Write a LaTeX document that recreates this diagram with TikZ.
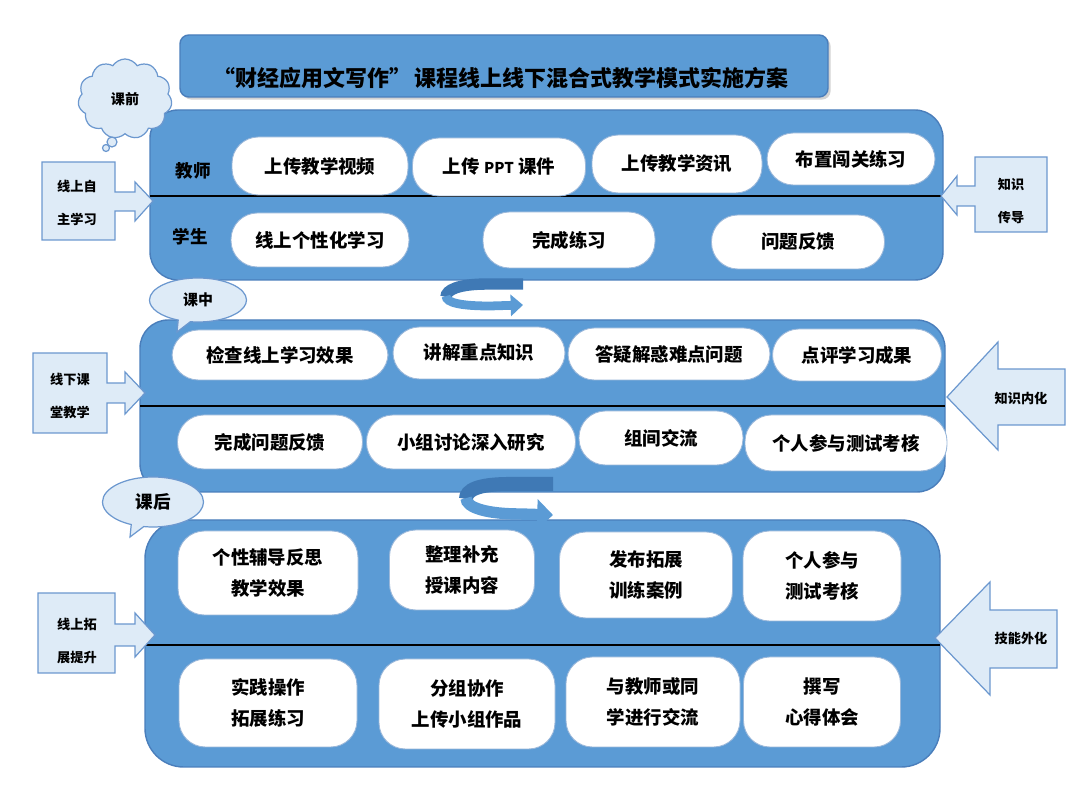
\documentclass[tikz,border=0pt]{standalone}
\usepackage{fontspec}
\setmainfont{Noto Sans CJK SC}
\usetikzlibrary{shapes.symbols, shapes.callouts, arrows.meta, shadows}

\definecolor{panelblue}{HTML}{5B9BD5}
\definecolor{paneledge}{HTML}{4A7EBB}
\definecolor{palefill}{HTML}{DEEBF7}
\definecolor{paleedge}{HTML}{6C98CF}
\definecolor{ribbondark}{HTML}{3F79B5}

\tikzset{
  panel/.style={fill=panelblue, draw=paneledge, line width=0.8pt},
  pill/.style n args={2}{fill=white, draw=paneledge!55, line width=0.5pt,
    rounded corners=15pt, minimum width=#1*0.02cm, minimum height=#2*0.02cm,
    inner sep=0pt, align=center, font=\bfseries\fontsize{10.5}{18}\selectfont},
  rolelabel/.style={font=\bfseries\fontsize{10}{12}\selectfont},
  callbox/.style={fill=palefill, draw=paleedge, line width=0.7pt},
  calltext/.style={font=\bfseries\fontsize{7.5}{18.5}\selectfont, align=center},
  divider/.style={line width=1.6pt, black},
  ribbon/.style={line width=#1, panelblue, line cap=butt},
}

\begin{document}
\begin{tikzpicture}[x=0.02cm, y=-0.02cm]
%% 1 unit = 1 px of the 1080 x 810 layout, y grows downwards
\useasboundingbox (0,0) rectangle (1080,810);

%% ---- Title ----
\node[fill=panelblue, draw=paneledge, line width=0.8pt, rounded corners=5pt,
      drop shadow={shadow xshift=1.5pt, shadow yshift=-1.5pt, opacity=.35},
      minimum width=648*0.02cm, minimum height=62*0.02cm] (title) at (504,66) {};
\node[font=\bfseries\fontsize{12.5}{15}\selectfont] (titletext) at (501,78)
  {“财经应用文写作”\,课程线上线下混合式教学模式实施方案};

%% ---- Panels ----
\draw[panel, rounded corners=16pt] (150,110) rectangle (943,280);
\draw[panel, rounded corners=16pt] (140,320) rectangle (945,492);
\draw[panel, rounded corners=22pt] (145,520) rectangle (940,767);

\draw[divider] (150,196) -- (943,196);
\draw[divider] (140,406) -- (945,406);
\draw[divider] (145,645) -- (940,645);

%% ---- Panel 1: before class ----
\node[rolelabel] (teacher) at (193,171) {教师};
\node[rolelabel] (student) at (190,237) {学生};

\foreach \nm/\x/\y/\w/\h/\txt in {
    tch1/320/166/176/58/{上传教学视频},
    tch2/499/167/173/58/{上传 {\fontsize{8.5}{10}\selectfont PPT} 课件},
    tch3/677/164/170/58/{上传教学资讯},
    tch4/851/159/168/52/{布置闯关练习},
    stu1/320/240/178/54/{线上个性化学习},
    stu2/569/240/172/56/{完成练习},
    stu3/798/242/173/54/{问题反馈}}
  \node[pill={\w}{\h}] (\nm) at (\x,\y) {\txt};

%% ---- Panel 2: in class ----
\foreach \nm/\x/\y/\w/\h/\txt in {
    cls1/280/355/216/50/{检查线上学习效果},
    cls2/479/353/172/52/{讲解重点知识},
    cls3/669/354/202/52/{答疑解惑难点问题},
    cls4/857/355/169/52/{点评学习成果},
    cls5/270/442/185/54/{完成问题反馈},
    cls6/471/442/209/54/{小组讨论深入研究},
    cls7/661/438/164/54/{组间交流},
    cls8/846/443/202/56/{个人参与测试考核}}
  \node[pill={\w}{\h}] (\nm) at (\x,\y) {\txt};

%% ---- Panel 3: after class ----
\foreach \nm/\x/\y/\w/\h/\txt in {
    aft1/268/573/180/84/{个性辅导反思\\教学效果},
    aft2/462/570/145/80/{整理补充\\授课内容},
    aft3/646/575/173/86/{发布拓展\\训练案例},
    aft4/822/576/158/90/{个人参与\\测试考核},
    aft5/268/703/178/88/{实践操作\\拓展练习},
    aft6/467/704/176/90/{分组协作\\上传小组作品},
    aft7/653/702/174/90/{与教师或同\\学进行交流},
    aft8/822/702/157/90/{撰写\\心得体会}}
  \node[pill={\w}{\h}] (\nm) at (\x,\y) {\txt};

%% ---- Ribbon arrows between panels ----
\coordinate (r1back) at (523,284);
\coordinate (r1turn) at (446,297);
\coordinate (r1tip)  at (523,305);
\draw[ribbon=6.5pt, ribbondark] (r1back) -- (488,284)
  .. controls (458,284) and (446,290) .. (r1turn);
\draw[ribbon=5pt, -{Triangle[width=12pt, length=7pt]}] ([yshift=0.5pt]r1turn)
  .. controls (446,303) and (462,306) .. (490,306) -- (r1tip);

\coordinate (r2back) at (553,484);
\coordinate (r2turn) at (466,499);
\coordinate (r2tip)  at (553,515);
\draw[ribbon=8pt, ribbondark] (r2back) -- (510,484)
  .. controls (478,484) and (466,490) .. (r2turn);
\draw[ribbon=6.5pt, -{Triangle[width=17pt, length=9pt]}] ([yshift=0.5pt]r2turn)
  .. controls (466,508) and (488,514) .. (520,514) -- (r2tip);

%% ---- Stage callouts ----
\node[cloud, cloud puffs=11, cloud puff arc=115, aspect=1.15, callbox,
      minimum width=94*0.02cm, minimum height=80*0.02cm,
      font=\bfseries\fontsize{8}{10}\selectfont] (cpre) at (125,99) {课前};
\draw[callbox] (112,142) circle[radius=0.1cm];
\draw[callbox] (106,148) circle[radius=0.07cm];

\node[ellipse callout, callbox, callout absolute pointer={(177,332)},
      minimum width=97*0.02cm, minimum height=44*0.02cm,
      font=\bfseries\fontsize{8.5}{10}\selectfont] (cmid) at (198,300) {课中};

\node[ellipse callout, callbox, callout absolute pointer={(130,537)},
      minimum width=101*0.02cm, minimum height=50*0.02cm,
      font=\bfseries\fontsize{10}{12}\selectfont] (cpost) at (153,502) {课后};

%% ---- Side arrow callouts ----
\draw[callbox] (42,162) -- (115,162) -- (115,192) -- (135,192) -- (135,182)
  -- (153,201) -- (135,221) -- (135,211) -- (115,211) -- (115,240) -- (42,240) -- cycle;
\node[calltext] (mode1) at (77,203) {线上自\\主学习};

\draw[callbox] (1047,157) -- (975,157) -- (975,186) -- (957,186) -- (957,176)
  -- (941,196) -- (957,215) -- (957,206) -- (975,206) -- (975,232) -- (1047,232) -- cycle;
\node[calltext] (goal1) at (1011,201) {知识\\传导};

\draw[callbox] (33,353) -- (107,353) -- (107,383) -- (125,383) -- (125,372)
  -- (145,393) -- (125,414) -- (125,403) -- (107,403) -- (107,433) -- (33,433) -- cycle;
\node[calltext] (mode2) at (70,396) {线下课\\堂教学};

\draw[callbox] (1065,369) -- (998,369) -- (998,342) -- (947,397) -- (998,450)
  -- (998,425) -- (1065,425) -- cycle;
\node[calltext] (goal2) at (1021,398) {知识内化};

\draw[callbox] (38,593) -- (115,593) -- (115,624) -- (135,624) -- (135,613)
  -- (155,635) -- (135,657) -- (135,646) -- (115,646) -- (115,673) -- (38,673) -- cycle;
\node[calltext] (mode3) at (77,641) {线上拓\\展提升};

\draw[callbox] (1057,610) -- (990,610) -- (990,582) -- (935,638) -- (990,695)
  -- (990,668) -- (1057,668) -- cycle;
\node[calltext] (goal3) at (1021,638) {技能外化};
\end{tikzpicture}
\end{document}
